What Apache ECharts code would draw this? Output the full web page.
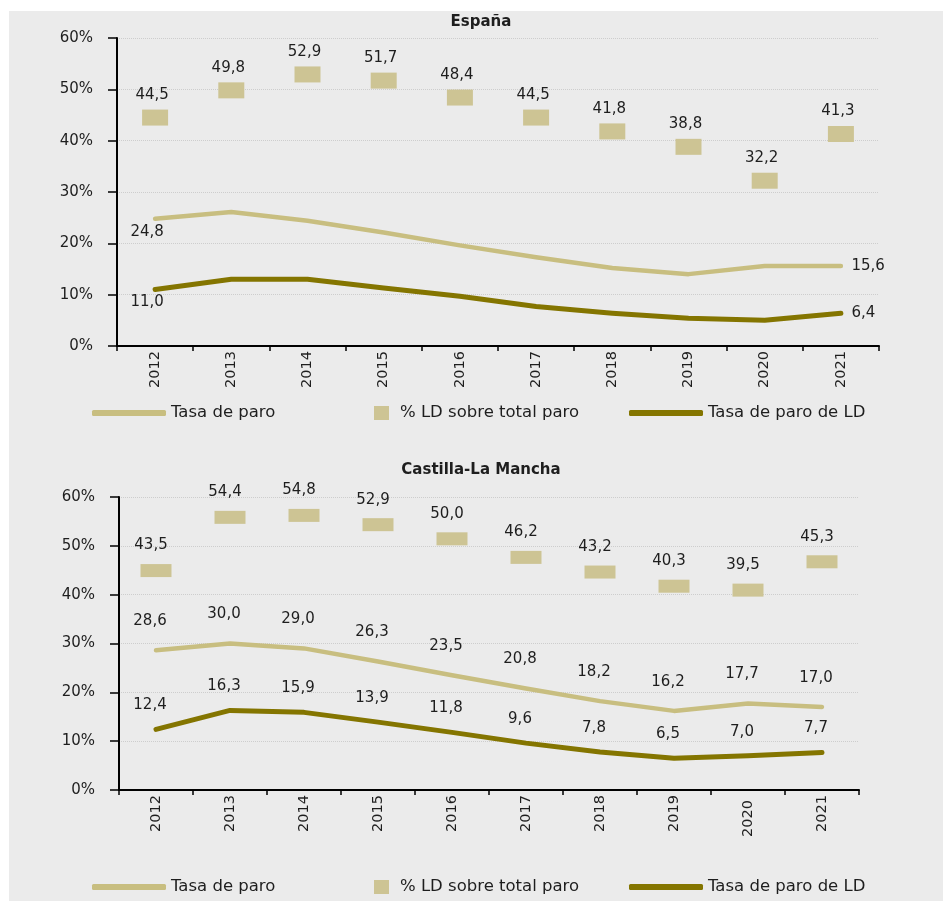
<!DOCTYPE html>
<html>
<head>
<meta charset="utf-8">
<script src="https://cdn.jsdelivr.net/npm/echarts@6/dist/echarts.min.js"></script>
<style>
html,body{margin:0;padding:0;background:#ffffff;}
#c{width:943px;height:901px;}
</style>
</head>
<body>
<div id="c"></div>
<script>
// ---- data ----
const years = ['2012','2013','2014','2015','2016','2017','2018','2019','2020','2021'];
const espParo = [24.8, 26.1, 24.4, 22.1, 19.6, 17.3, 15.2, 14.0, 15.6, 15.6];
const espLD   = [11.0, 13.0, 13.0, 11.3, 9.7, 7.7, 6.4, 5.4, 5.0, 6.4];
const espPct  = [44.5, 49.8, 52.9, 51.7, 48.4, 44.5, 41.8, 38.8, 32.2, 41.3];
const clmParo = [28.6, 30.0, 29.0, 26.3, 23.5, 20.8, 18.2, 16.2, 17.7, 17.0];
const clmLD   = [12.4, 16.3, 15.9, 13.9, 11.8, 9.6, 7.8, 6.5, 7.0, 7.7];
const clmPct  = [43.5, 54.4, 54.8, 52.9, 50.0, 46.2, 43.2, 40.3, 39.5, 45.3];
const titles  = ['España', 'Castilla-La Mancha'];
const names   = ['Tasa de paro', '% LD sobre total paro', 'Tasa de paro de LD'];

// ---- styles ----
const FONT = 'DejaVu Sans';
const TXT = '#1e1e1e';
const C_LIGHT = '#c8be80';
const C_SQ = '#cdc494';
const C_DARK = '#847500';
const fmt = v => Number(v).toFixed(1).replace('.', ',');
const lblStyle = {color: TXT, fontFamily: FONT, fontSize: 15};

const chart = echarts.init(document.getElementById('c'), null, {renderer: 'canvas'});

function xAxis(gi, shiftIdx) {
  return {
    type: 'category', gridIndex: gi, data: years, boundaryGap: true,
    axisLine: {show: true, lineStyle: {color: '#000', width: 2}},
    axisTick: {show: true, length: 5, lineStyle: {color: '#000', width: 1.5}},
    axisLabel: {
      rotate: 90, margin: 5, color: TXT, fontFamily: FONT, fontSize: 14.5,
      formatter: (v, i) => i === shiftIdx ? '{s|' + v + '}' : v,
      rich: {s: {padding: [0, 5, 0, 0], color: TXT, fontFamily: FONT, fontSize: 14.5}}
    },
    splitLine: {show: false}
  };
}
function yAxis(gi) {
  return {
    type: 'value', gridIndex: gi, min: 0, max: 60, interval: 10,
    axisLine: {show: true, lineStyle: {color: '#000', width: 2}},
    axisTick: {show: true, length: 9, lineStyle: {color: '#000', width: 1.5}},
    axisLabel: {formatter: '{value}%', margin: 24, color: TXT, fontFamily: FONT, fontSize: 15},
    splitLine: {show: true, lineStyle: {color: '#cdcdcd', type: 'dotted', width: 1}}
  };
}
function endLabels(vals) {
  const n = vals.length;
  return vals.map((v, i) => {
    if (i === 0) return {value: v, label: {show: true, position: 'bottom', distance: 5, offset: [-8, 0]}};
    if (i === n - 1) return {value: v, label: {show: true, position: 'right', distance: 10}};
    return {value: v, label: {show: false}};
  });
}
function lineSeries(name, gi, data, color, width, labelCfg) {
  return {
    type: 'line', name: name, xAxisIndex: gi, yAxisIndex: gi, data: data,
    color: color, smooth: false, symbol: 'circle', symbolSize: 1, showSymbol: true,
    lineStyle: {color: color, width: width, cap: 'round', join: 'round'},
    itemStyle: {color: color},
    label: Object.assign({formatter: p => fmt(p.value)}, lblStyle, labelCfg),
    emphasis: {disabled: true}, animation: false, z: 3
  };
}
function sqSeries(gi, data, size, offset, labelCfg) {
  return {
    type: 'scatter', name: names[1], xAxisIndex: gi, yAxisIndex: gi, data: data,
    color: C_SQ, symbol: 'rect', symbolSize: size, symbolOffset: offset,
    itemStyle: {color: C_SQ, opacity: 1},
    label: Object.assign({show: true, position: 'top', formatter: p => fmt(p.value)}, lblStyle, labelCfg),
    emphasis: {disabled: true}, animation: false, z: 4
  };
}
function legends(top) {
  const ts = {color: TXT, fontFamily: FONT, fontSize: 16.5, lineHeight: 20};
  return [
    {data: [{name: names[0], icon: 'roundRect'}], left: 92, top: top, padding: 0, itemWidth: 74, itemHeight: 6, textStyle: ts, selectedMode: false},
    {data: [{name: names[1], icon: 'rect'}], left: 374, top: top, padding: 0, itemWidth: 15, itemHeight: 14, textStyle: Object.assign({}, ts, {padding: [0, 0, 0, 6]}), selectedMode: false},
    {data: [{name: names[2], icon: 'roundRect'}], left: 629, top: top, padding: 0, itemWidth: 74, itemHeight: 6, textStyle: ts, selectedMode: false}
  ];
}

const option = {
  animation: false,
  backgroundColor: '#ffffff',
  graphic: [
    {type: 'rect', z: -100, silent: true, shape: {x: 9, y: 11, width: 934, height: 890}, style: {fill: '#ebebeb'}},
    {type: 'text', x: 481, y: 22, silent: true, style: {text: titles[0], textAlign: 'center', textVerticalAlign: 'middle', fill: TXT, fontFamily: FONT, fontWeight: 'bold', fontSize: 15}},
    {type: 'text', x: 481, y: 470, silent: true, style: {text: titles[1], textAlign: 'center', textVerticalAlign: 'middle', fill: TXT, fontFamily: FONT, fontWeight: 'bold', fontSize: 15}}
  ],
  grid: [
    {left: 117, top: 38, width: 762, height: 308},
    {left: 119, top: 497, width: 740, height: 293}
  ],
  xAxis: [xAxis(0, -1), xAxis(1, 8)],
  yAxis: [yAxis(0), yAxis(1)],
  legend: legends(403).concat(legends(877)),
  series: [
    lineSeries(names[0], 0, endLabels(espParo), C_LIGHT, 4.5, {}),
    sqSeries(0, espPct, [26, 16], [0, 0], {distance: 7, offset: [-3, 0]}),
    lineSeries(names[2], 0, endLabels(espLD), C_DARK, 5, {}),
    lineSeries(names[0], 1, clmParo, C_LIGHT, 4.5, {show: true, position: 'top', distance: 21, offset: [-6, 0]}),
    sqSeries(1, clmPct, [31, 13], [0, -7], {distance: 11, offset: [-5, 0]}),
    lineSeries(names[2], 1, clmLD, C_DARK, 5, {show: true, position: 'top', distance: 16, offset: [-6, 0]})
  ]
};
chart.setOption(option);
</script>
</body>
</html>
